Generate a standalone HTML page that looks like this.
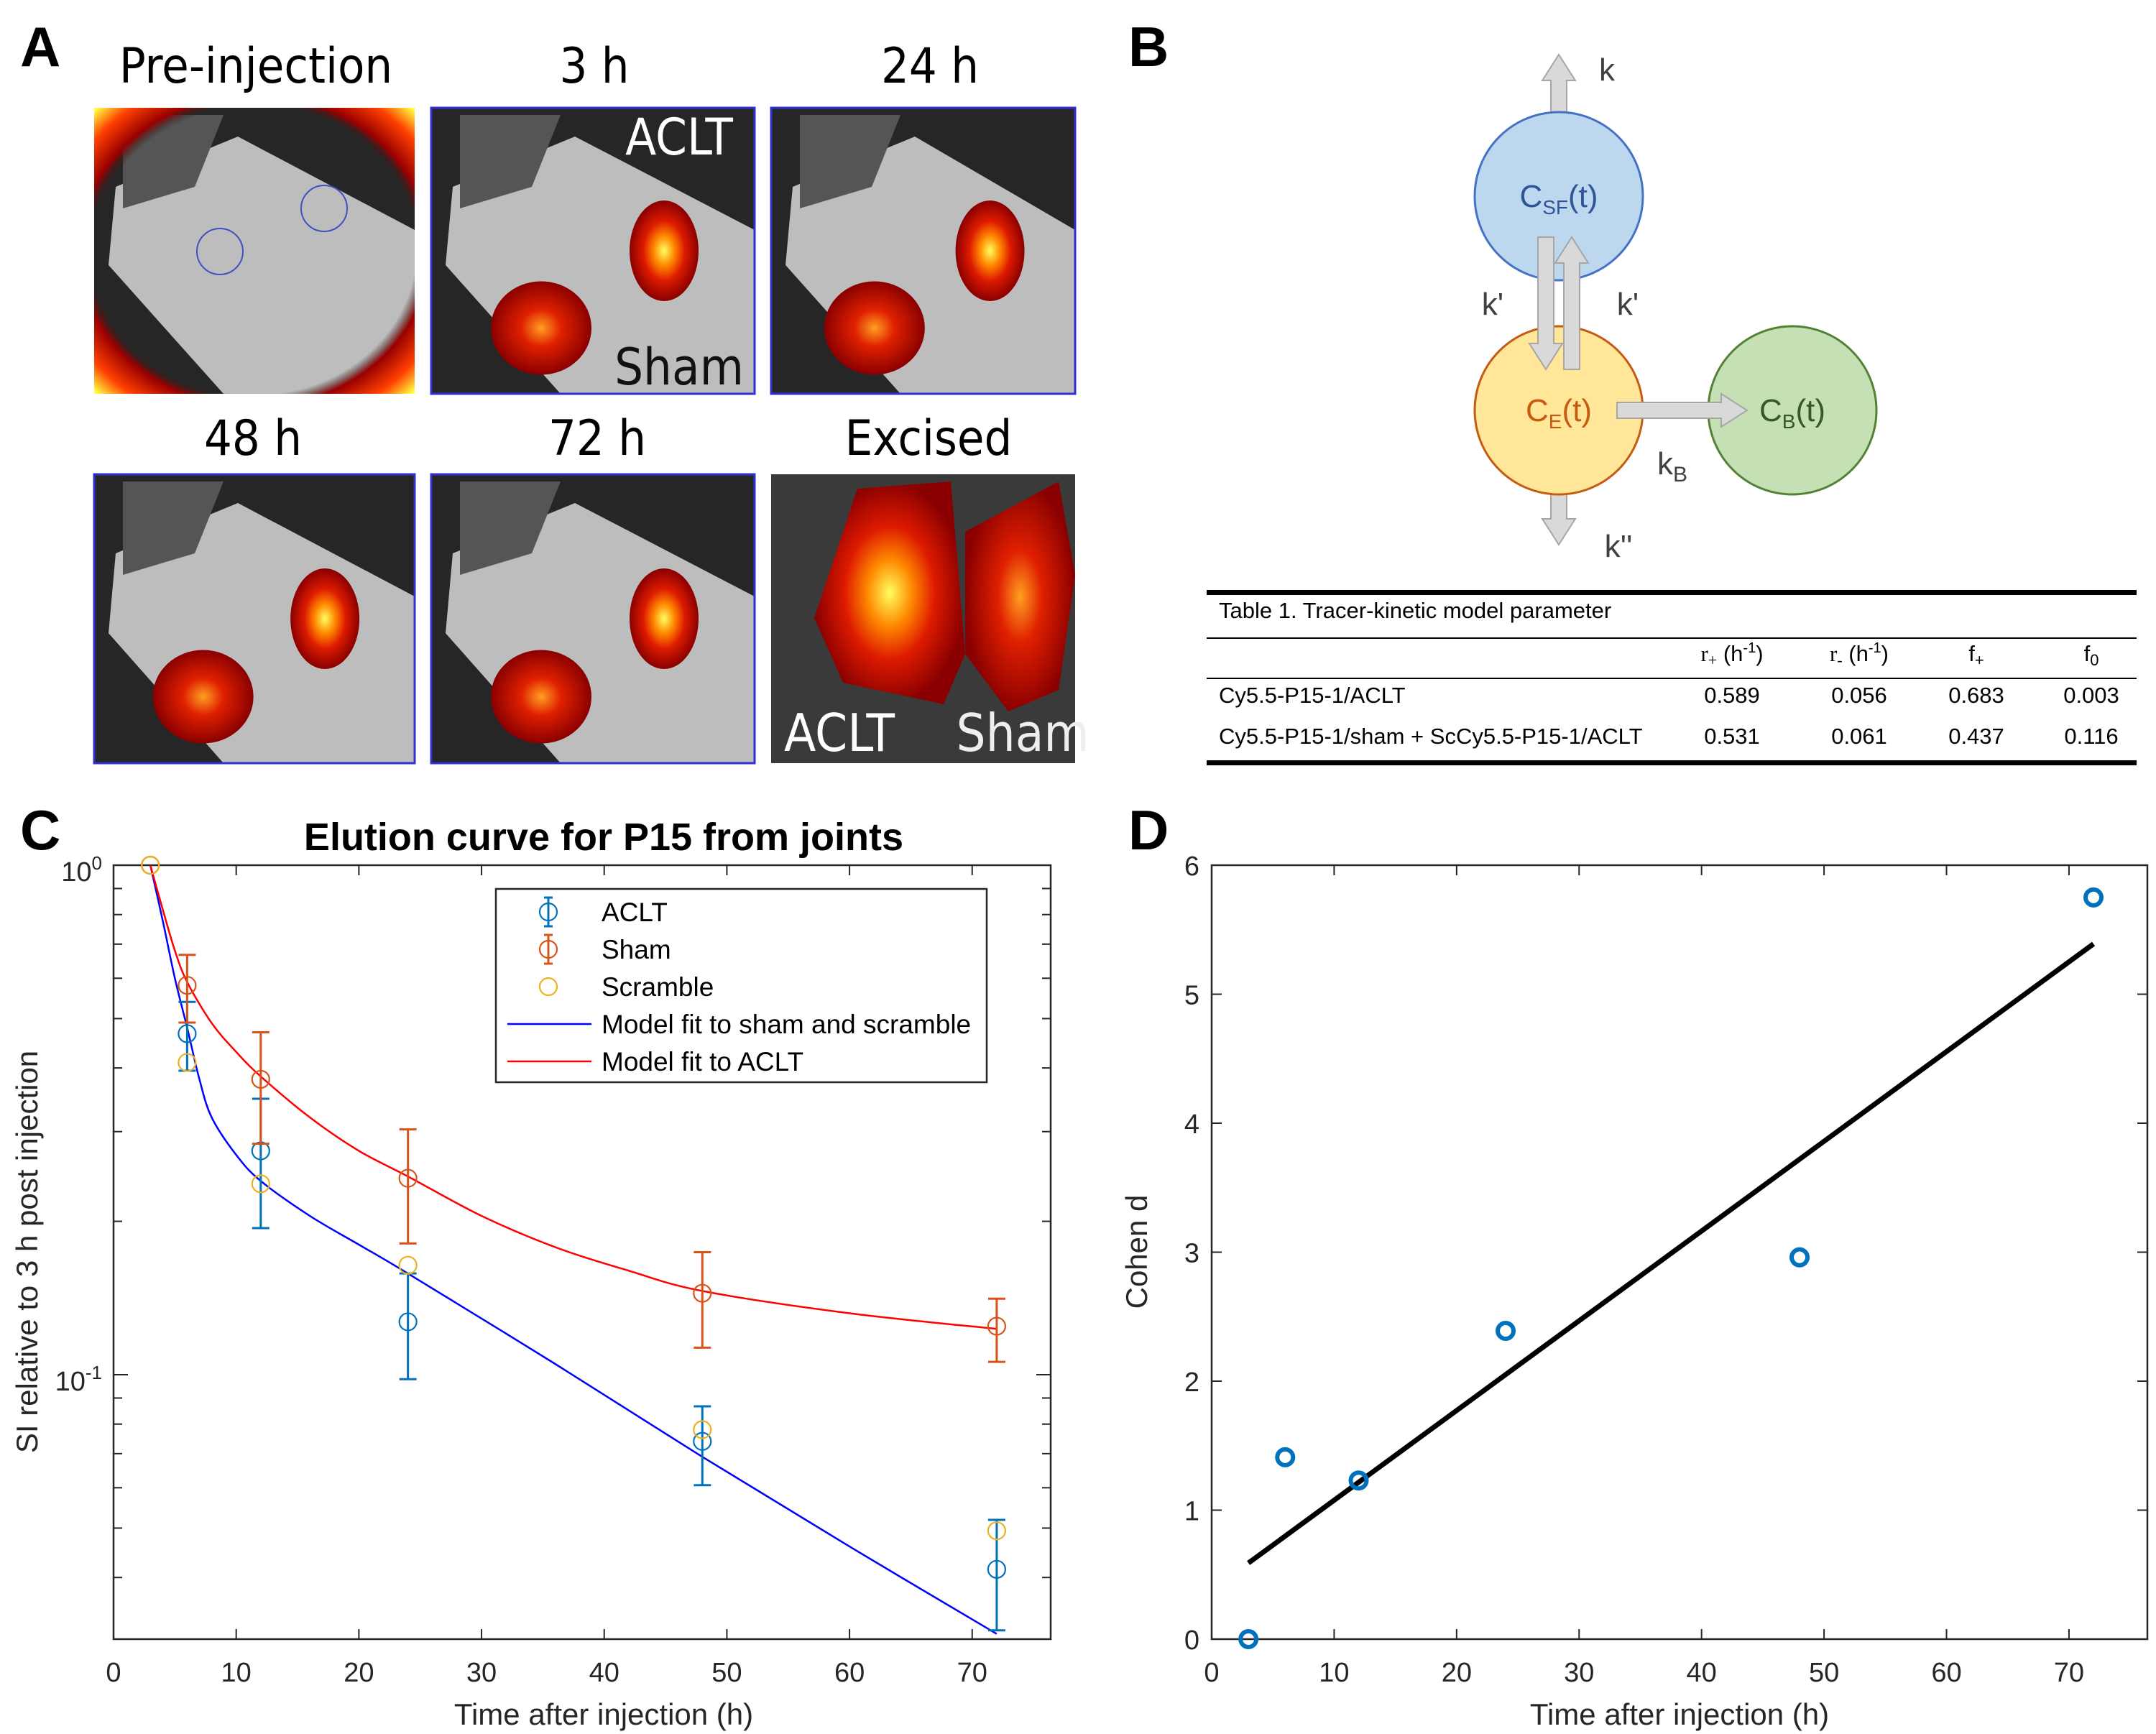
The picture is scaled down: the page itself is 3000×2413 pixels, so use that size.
<!DOCTYPE html>
<html><head><meta charset="utf-8"><style>
html,body{margin:0;padding:0;background:#fff}
svg{display:block}
text{font-family:"Liberation Sans",sans-serif}
</style></head><body>
<svg id="fig" width="3000" height="2413" viewBox="0 0 3000 2413" xmlns="http://www.w3.org/2000/svg">
<defs>
<radialGradient id="hot" cx="50%" cy="50%" r="50%">
<stop offset="0" stop-color="#ffff60"/><stop offset="0.3" stop-color="#ff8800"/><stop offset="0.6" stop-color="#dd1a00"/><stop offset="1" stop-color="#8a0000"/></radialGradient>
<radialGradient id="hot2" cx="50%" cy="50%" r="50%">
<stop offset="0" stop-color="#ffa020"/><stop offset="0.4" stop-color="#e02000"/><stop offset="1" stop-color="#8a0000"/></radialGradient>
<radialGradient id="ring" cx="50%" cy="50%" r="70%"><stop offset="0.72" stop-color="#222" stop-opacity="0"/><stop offset="0.78" stop-color="#9a0000"/><stop offset="0.9" stop-color="#ff4000"/><stop offset="1" stop-color="#ffff40"/></radialGradient>
</defs>

<g font-weight="bold" font-size="78" fill="#000">
<text x="28" y="92">A</text>
<text x="1570" y="92">B</text>
<text x="28" y="1182">C</text>
<text x="1570" y="1182">D</text>
</g>

<g id="panelA" font-size="68" text-anchor="middle" fill="#000">
<text x="356" y="115" style="font-family:'DejaVu Sans Condensed','DejaVu Sans',sans-serif">Pre-injection</text>
<text x="827" y="115" style="font-family:'DejaVu Sans Condensed','DejaVu Sans',sans-serif">3 h</text>
<text x="1294" y="115" style="font-family:'DejaVu Sans Condensed','DejaVu Sans',sans-serif">24 h</text>
<text x="352" y="633" style="font-family:'DejaVu Sans Condensed','DejaVu Sans',sans-serif">48 h</text>
<text x="831" y="633" style="font-family:'DejaVu Sans Condensed','DejaVu Sans',sans-serif">72 h</text>
<text x="1292" y="633" style="font-family:'DejaVu Sans Condensed','DejaVu Sans',sans-serif">Excised</text>
</g>

<g id="panelB">
<g fill="#d9d9d9" stroke="#a6a6a6" stroke-width="2">
<polygon points="2158,180 2158,112 2146,112 2169,76 2192,112 2180,112 2180,180"/>
<polygon points="2158,655 2158,722 2146,722 2169,758 2192,722 2180,722 2180,655"/>
</g>
<circle cx="2169" cy="273" r="117" fill="#bdd7ee" stroke="#4472c4" stroke-width="3"/>
<circle cx="2169" cy="571" r="117" fill="#ffe699" stroke="#c55a11" stroke-width="3"/>
<circle cx="2494" cy="571" r="117" fill="#c5e0b4" stroke="#548235" stroke-width="3"/>
<g fill="#d9d9d9" stroke="#a6a6a6" stroke-width="2">
<polygon points="2140,330 2140,478 2128,478 2151,514 2174,478 2162,478 2162,330"/>
<polygon points="2176,514 2176,366 2164,366 2187,330 2210,366 2198,366 2198,514"/>
<polygon points="2250,560 2395,560 2395,548 2431,571 2395,594 2395,582 2250,582"/>
</g>
<g font-family="'DejaVu Sans','Liberation Sans',sans-serif" font-size="44" text-anchor="middle">
<text x="2169" y="288" fill="#2f5597">C<tspan font-size="28" dy="10">SF</tspan><tspan dy="-10">(t)</tspan></text>
<text x="2169" y="586" fill="#c55a11">C<tspan font-size="28" dy="10">E</tspan><tspan dy="-10">(t)</tspan></text>
<text x="2494" y="586" fill="#385723">C<tspan font-size="28" dy="10">B</tspan><tspan dy="-10">(t)</tspan></text>
<g fill="#404040">
<text x="2236" y="112">k</text>
<text x="2077" y="438">k'</text>
<text x="2265" y="438">k'</text>
<text x="2327" y="660">k<tspan font-size="30" dy="10">B</tspan></text>
<text x="2252" y="775">k''</text>
</g>
</g>
</g>

<g id="table" font-size="31" fill="#000">
<rect x="1679" y="821" width="1294" height="7" fill="#000"/>
<line x1="1679" y1="888" x2="2973" y2="888" stroke="#000" stroke-width="2"/>
<line x1="1679" y1="944" x2="2973" y2="944" stroke="#000" stroke-width="2"/>
<rect x="1679" y="1058" width="1294" height="7" fill="#000"/>
<text x="1696" y="860">Table 1. Tracer-kinetic model parameter</text>
<g text-anchor="middle">
<text x="2410" y="920"><tspan font-family="'Liberation Serif',serif">r<tspan font-size="22" dy="6">+</tspan></tspan><tspan dy="-6"> (h</tspan><tspan font-size="20" dy="-12">-1</tspan><tspan dy="12">)</tspan></text>
<text x="2587" y="920"><tspan font-family="'Liberation Serif',serif">r<tspan font-size="22" dy="6">-</tspan></tspan><tspan dy="-6"> (h</tspan><tspan font-size="20" dy="-12">-1</tspan><tspan dy="12">)</tspan></text>
<text x="2750" y="920" font-family="'Liberation Serif',serif">f<tspan font-size="22" dy="6">+</tspan></text>
<text x="2910" y="920" font-family="'Liberation Serif',serif">f<tspan font-size="22" dy="6">0</tspan></text>
<text x="2410" y="978">0.589</text><text x="2587" y="978">0.056</text><text x="2750" y="978">0.683</text><text x="2910" y="978">0.003</text>
<text x="2410" y="1035">0.531</text><text x="2587" y="1035">0.061</text><text x="2750" y="1035">0.437</text><text x="2910" y="1035">0.116</text>
</g>
<text x="1696" y="978">Cy5.5-P15-1/ACLT</text>
<text x="1696" y="1035">Cy5.5-P15-1/sham + ScCy5.5-P15-1/ACLT</text>
</g>

<g id="chartC"></g>
<g id="chartD"></g>
</svg>

<script>
// ---------- Chart C data ----------
const cTimes = [3, 6, 12, 24, 48, 72];
const acltMean = [1, 0.467, 0.275, 0.127, 0.074, 0.0415];
const acltLow = [1, 0.395, 0.194, 0.098, 0.0607, 0.0315];
const acltHigh = [1, 0.539, 0.348, 0.158, 0.0867, 0.0519];
const shamMean = [1, 0.581, 0.38, 0.243, 0.1445, 0.1245];
const shamLow = [1, 0.491, 0.284, 0.181, 0.113, 0.106];
const shamHigh = [1, 0.667, 0.47, 0.303, 0.174, 0.141];
const scrambleMean = [1, 0.41, 0.237, 0.164, 0.078, 0.0494];
const blueFitT = [3, 4, 5, 6, 7, 8, 10, 12, 16, 20, 24, 36, 48, 60, 72];
const blueFitY = [1, 0.78, 0.6, 0.48, 0.38, 0.32, 0.27, 0.24, 0.205, 0.18, 0.158, 0.105, 0.069, 0.046, 0.031];
const redFitT = [3, 4, 5, 6, 8, 10, 12, 16, 20, 24, 30, 36, 42, 48, 60, 72];
const redFitY = [1, 0.82, 0.68, 0.59, 0.49, 0.43, 0.385, 0.32, 0.275, 0.245, 0.205, 0.178, 0.16, 0.146, 0.132, 0.123];
const cXTicks = [0, 10, 20, 30, 40, 50, 60, 70];
// ---------- Chart D data ----------
const dTimes = [3, 6, 12, 24, 48, 72];
const cohenD = [0, 1.41, 1.23, 2.39, 2.96, 5.75];
const fitX = [3, 72];
const fitY = [0.59, 5.39];
const dXTicks = [0, 10, 20, 30, 40, 50, 60, 70];
const dYTicks = [0, 1, 2, 3, 4, 5, 6];

const NS = 'http://www.w3.org/2000/svg';
function mk(parent, tag, attrs, txt) {
  const e = document.createElementNS(NS, tag);
  for (const k in attrs) e.setAttribute(k, attrs[k]);
  if (txt !== undefined) e.textContent = txt;
  parent.appendChild(e);
  return e;
}
const AX = '#262626';

// ---------- Panel A images ----------
(function () {
  const g = document.getElementById('panelA');
  const tiles = [
    [131, 150, 446, 398, 'pre'], [600, 150, 450, 398, '3h'], [1073, 150, 423, 398, '24h'],
    [131, 660, 446, 402, '48h'], [600, 660, 450, 402, '72h'], [1073, 660, 423, 402, 'exc']];
  tiles.forEach(function (t) {
    const tg = mk(g, 'g', {});
    
    
    const x = t[0], y = t[1], w = t[2], h = t[3];
    mk(tg, 'rect', { x: x, y: y, width: w, height: h, fill: '#262626' });
    if (t[4] === 'exc') {
      mk(tg, 'rect', { x: x, y: y, width: w, height: h, fill: '#3a3a3a' });
      mk(tg, 'path', { d: `M${x+120} ${y+20} L${x+250} ${y+10} L${x+270} ${y+250} L${x+240} ${y+320} L${x+100} ${y+290} L${x+60} ${y+200} Z`, fill: 'url(#hot)' });
      mk(tg, 'path', { d: `M${x+270} ${y+80} L${x+400} ${y+10} L${x+423} ${y+140} L${x+400} ${y+300} L${x+330} ${y+330} L${x+270} ${y+250} Z`, fill: 'url(#hot2)' });
      mk(tg, 'text', { x: x + 95, y: y + 385, 'font-size': 72, fill: '#fff', 'text-anchor': 'middle', style: "font-family:'DejaVu Sans Condensed','DejaVu Sans',sans-serif" }, 'ACLT');
      mk(tg, 'text', { x: x + 350, y: y + 385, 'font-size': 72, fill: '#eee', 'text-anchor': 'middle', style: "font-family:'DejaVu Sans Condensed','DejaVu Sans',sans-serif" }, 'Sham');
      return;
    }
    mk(tg, 'path', { d: `M${x+30} ${y+110} L${x+200} ${y+40} L${x+w} ${y+170} L${x+w} ${y+h} L${x+180} ${y+h} L${x+20} ${y+h*0.55} Z`, fill: '#bdbdbd' });
    mk(tg, 'path', { d: `M${x+40} ${y+10} L${x+180} ${y+10} L${x+140} ${y+110} L${x+40} ${y+140} Z`, fill: '#555' });
    if (t[4] === 'pre') {
      mk(tg, 'rect', { x: x, y: y, width: w, height: h, fill: 'url(#ring)' });
      mk(tg, 'circle', { cx: x + 175, cy: y + 200, r: 32, fill: 'none', stroke: '#4050c0', 'stroke-width': 2 });
      mk(tg, 'circle', { cx: x + 320, cy: y + 140, r: 32, fill: 'none', stroke: '#4050c0', 'stroke-width': 2 });
    } else {
      mk(tg, 'ellipse', { cx: x + w * 0.34, cy: y + h * 0.77, rx: 70, ry: 65, fill: 'url(#hot2)' });
      mk(tg, 'ellipse', { cx: x + w * 0.72, cy: y + h * 0.5, rx: 48, ry: 70, fill: 'url(#hot)' });
      mk(tg, 'rect', { x: x, y: y, width: w, height: h, fill: 'none', stroke: '#3030d0', 'stroke-width': 3 });
    }
    if (t[4] === '3h') {
      mk(tg, 'text', { x: x + 345, y: y + 65, 'font-size': 70, fill: '#fff', 'text-anchor': 'middle', style: "font-family:'DejaVu Sans Condensed','DejaVu Sans',sans-serif" }, 'ACLT');
      mk(tg, 'text', { x: x + 345, y: y + 385, 'font-size': 70, fill: '#111', 'text-anchor': 'middle', style: "font-family:'DejaVu Sans Condensed','DejaVu Sans',sans-serif" }, 'Sham');
    }
  });
})();

// smooth path through points (Catmull-Rom -> cubic Bezier)
function smoothPath(pts) {
  let d = 'M' + pts[0][0].toFixed(1) + ' ' + pts[0][1].toFixed(1);
  for (let i = 0; i < pts.length - 1; i++) {
    const p0 = pts[Math.max(0, i - 1)], p1 = pts[i], p2 = pts[i + 1], p3 = pts[Math.min(pts.length - 1, i + 2)];
    const c1x = p1[0] + (p2[0] - p0[0]) / 6, c1y = p1[1] + (p2[1] - p0[1]) / 6;
    const c2x = p2[0] - (p3[0] - p1[0]) / 6, c2y = p2[1] - (p3[1] - p1[1]) / 6;
    d += ` C${c1x.toFixed(1)} ${c1y.toFixed(1)} ${c2x.toFixed(1)} ${c2y.toFixed(1)} ${p2[0].toFixed(1)} ${p2[1].toFixed(1)}`;
  }
  return d;
}

// ---------- Chart C ----------
(function () {
  const g = document.getElementById('chartC');
  const L = 158, R = 1462, T = 1204, B = 2281;
  const xMax = 76.4, yMinLog = -1.519;
  const xs = v => L + (v / xMax) * (R - L);
  const ys = v => T + (Math.log10(v) / yMinLog) * (B - T);
  const frame = mk(g, 'rect', { x: L, y: T, width: R - L, height: B - T, fill: 'none', stroke: AX, 'stroke-width': 2.5 });
  
  
  cXTicks.forEach(v => {
    const x = xs(v);
    mk(g, 'line', { x1: x, y1: B, x2: x, y2: B - 14, stroke: AX, 'stroke-width': 2 });
    mk(g, 'line', { x1: x, y1: T, x2: x, y2: T + 14, stroke: AX, 'stroke-width': 2 });
    const t = mk(g, 'text', { x: x, y: 2340, 'font-size': 38, fill: AX, 'text-anchor': 'middle' }, String(v));
    
    
  });
  [0.04, 0.05, 0.06, 0.07, 0.08, 0.09, 0.1, 0.2, 0.3, 0.4, 0.5, 0.6, 0.7, 0.8, 0.9].forEach(v => {
    const y = ys(v), len = (v === 0.1) ? 20 : 12;
    mk(g, 'line', { x1: L, y1: y, x2: L + len, y2: y, stroke: AX, 'stroke-width': 2 });
    mk(g, 'line', { x1: R, y1: y, x2: R - len, y2: y, stroke: AX, 'stroke-width': 2 });
  });
  const y0 = mk(g, 'text', { x: 142, y: 1226, 'font-size': 38, fill: AX, 'text-anchor': 'end' });
  y0.innerHTML = '10<tspan font-size="26" dy="-16">0</tspan>';
  
  
  const y1 = mk(g, 'text', { x: 142, y: 1935, 'font-size': 38, fill: AX, 'text-anchor': 'end' });
  y1.innerHTML = '10<tspan font-size="26" dy="-16">-1</tspan>';
  
  
  const title = mk(g, 'text', { x: 840, y: 1183, 'font-size': 54, 'font-weight': 'bold', fill: '#000', 'text-anchor': 'middle' }, 'Elution curve for P15 from joints');
  
  
  const xl = mk(g, 'text', { x: 840, y: 2400, 'font-size': 42, fill: AX, 'text-anchor': 'middle' }, 'Time after injection (h)');
  
  
  const yl = mk(g, 'text', { x: 0, y: 0, 'font-size': 42, fill: AX, 'text-anchor': 'middle', transform: 'translate(52,1742) rotate(-90)' }, 'SI relative to 3 h post injection');
  
  

  function fit(tArr, yArr, color, name) {
    const pts = tArr.map((t, i) => [xs(t), ys(yArr[i])]);
    const p = mk(g, 'path', { d: smoothPath(pts), fill: 'none', stroke: color, 'stroke-width': 2.5, 'stroke-linejoin': 'round' });
    
    
  }
  fit(blueFitT, blueFitY, '#0000ff', 'fit-sham-scramble-line');
  fit(redFitT, redFitY, '#ff0000', 'fit-aclt-line');

  function series(mean, lo, hi, color, name) {
    cTimes.forEach((t, i) => {
      const x = xs(t);
      if (lo && hi && hi[i] !== lo[i]) {
        const e = mk(g, 'path', { d: `M${x} ${ys(lo[i])} L${x} ${ys(hi[i])} M${x-12} ${ys(lo[i])} L${x+12} ${ys(lo[i])} M${x-12} ${ys(hi[i])} L${x+12} ${ys(hi[i])}`, stroke: color, 'stroke-width': 3, fill: 'none' });
        
        
      }
      const c = mk(g, 'circle', { cx: x, cy: ys(mean[i]), r: 12, fill: 'none', stroke: color, 'stroke-width': 2.2 });
      
      
    });
  }
  series(acltMean, acltLow, acltHigh, '#0072bd', 'aclt');
  series(shamMean, shamLow, shamHigh, '#d95319', 'sham');
  series(scrambleMean, null, null, '#edb120', 'scramble');

  const lg = mk(g, 'g', {});
  
  
  mk(lg, 'rect', { x: 690, y: 1237, width: 683, height: 269, fill: '#fff', stroke: AX, 'stroke-width': 2.5 });
  const rows = [['ACLT', '#0072bd', 'eb'], ['Sham', '#d95319', 'eb'], ['Scramble', '#edb120', 'c'], ['Model fit to sham and scramble', '#0000ff', 'l'], ['Model fit to ACLT', '#ff0000', 'l']];
  rows.forEach((r, i) => {
    const y = 1269 + i * 52;
    const ent = mk(lg, 'g', {});
    
    
    if (r[2] === 'l') mk(ent, 'line', { x1: 706, y1: y, x2: 823, y2: y, stroke: r[1], 'stroke-width': 2.5 });
    else {
      mk(ent, 'circle', { cx: 763, cy: y, r: 12, fill: 'none', stroke: r[1], 'stroke-width': 2.2 });
      if (r[2] === 'eb') mk(ent, 'path', { d: `M763 ${y-20} L763 ${y+20} M757 ${y-20} L769 ${y-20} M757 ${y+20} L769 ${y+20}`, stroke: r[1], 'stroke-width': 3 });
    }
    mk(ent, 'text', { x: 837, y: y + 13, 'font-size': 37, fill: '#000' }, r[0]);
  });
})();

// ---------- Chart D ----------
(function () {
  const g = document.getElementById('chartD');
  const L = 1686, R = 2988, T = 1204, B = 2281;
  const xMax = 76.4, yMax = 6;
  const xs = v => L + (v / xMax) * (R - L);
  const ys = v => B - (v / yMax) * (B - T);
  const frame = mk(g, 'rect', { x: L, y: T, width: R - L, height: B - T, fill: 'none', stroke: AX, 'stroke-width': 2.5 });
  
  
  dXTicks.forEach(v => {
    const x = xs(v);
    mk(g, 'line', { x1: x, y1: B, x2: x, y2: B - 14, stroke: AX, 'stroke-width': 2 });
    mk(g, 'line', { x1: x, y1: T, x2: x, y2: T + 14, stroke: AX, 'stroke-width': 2 });
    const t = mk(g, 'text', { x: x, y: 2340, 'font-size': 38, fill: AX, 'text-anchor': 'middle' }, String(v));
    
    
  });
  dYTicks.forEach(v => {
    const y = ys(v);
    mk(g, 'line', { x1: L, y1: y, x2: L + 14, y2: y, stroke: AX, 'stroke-width': 2 });
    mk(g, 'line', { x1: R, y1: y, x2: R - 14, y2: y, stroke: AX, 'stroke-width': 2 });
    const t = mk(g, 'text', { x: 1669, y: y + 14, 'font-size': 38, fill: AX, 'text-anchor': 'end' }, String(v));
    
    
  });
  const xl = mk(g, 'text', { x: 2337, y: 2400, 'font-size': 42, fill: AX, 'text-anchor': 'middle' }, 'Time after injection (h)');
  
  
  const yl = mk(g, 'text', { x: 0, y: 0, 'font-size': 42, fill: AX, 'text-anchor': 'middle', transform: 'translate(1596,1742) rotate(-90)' }, 'Cohen d');
  
  
  const fl = mk(g, 'line', { x1: xs(fitX[0]), y1: ys(fitY[0]), x2: xs(fitX[1]), y2: ys(fitY[1]), stroke: '#000', 'stroke-width': 7 });
  
  
  dTimes.forEach((t, i) => {
    const c = mk(g, 'circle', { cx: xs(t), cy: ys(cohenD[i]), r: 11, fill: 'none', stroke: '#0072bd', 'stroke-width': 6 });
    
    
  });
})();
</script>
</body></html>
